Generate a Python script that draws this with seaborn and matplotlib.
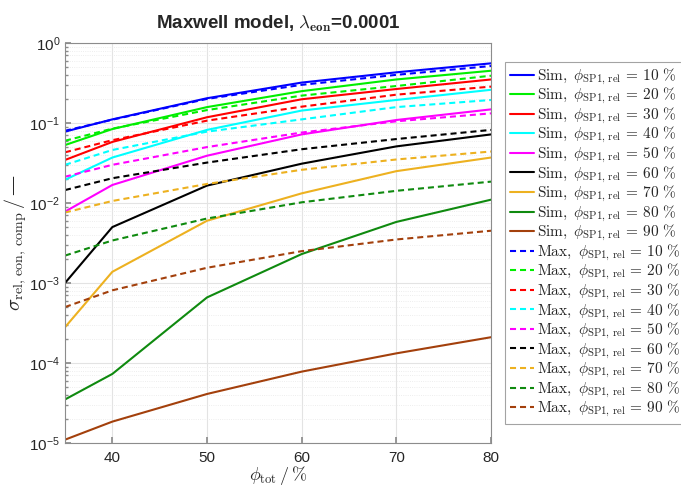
import numpy as np
import pandas as pd
import matplotlib
matplotlib.use("Agg")
import matplotlib.pyplot as plt
import seaborn as sns
from matplotlib.ticker import LogLocator, FixedLocator, LogFormatterMathtext, NullFormatter

# Total volume fraction (x) and relative SP1 fraction (series)
phi_tot = [35, 40, 50, 60, 70, 80]
phi_sp1 = [10, 20, 30, 40, 50, 60, 70, 80, 90]

# Simulated relative conductivity per SP1 fraction
sim_10 = [0.078, 0.111, 0.204, 0.32, 0.43, 0.557]
sim_20 = [0.053, 0.084, 0.158, 0.25, 0.35, 0.45]
sim_30 = [0.0345, 0.058, 0.118, 0.198, 0.266, 0.35]
sim_40 = [0.0195, 0.037, 0.082, 0.143, 0.194, 0.26]
sim_50 = [0.0078, 0.0168, 0.039, 0.072, 0.109, 0.148]
sim_60 = [0.001, 0.005, 0.0165, 0.031, 0.051, 0.072]
sim_70 = [0.00028, 0.00138, 0.006, 0.0132, 0.025, 0.037]
sim_80 = [3.5e-5, 7.3e-5, 6.6e-4, 0.0023, 0.0058, 0.011]
sim_90 = [1.1e-5, 1.85e-5, 4.1e-5, 7.8e-5, 1.32e-4, 2.1e-4]

# Maxwell model prediction per SP1 fraction
max_10 = [0.080, 0.110, 0.200, 0.300, 0.400, 0.516]
max_20 = [0.060, 0.085, 0.145, 0.220, 0.290, 0.390]
max_30 = [0.043, 0.061, 0.107, 0.160, 0.226, 0.285]
max_40 = [0.030, 0.046, 0.078, 0.111, 0.158, 0.194]
max_50 = [0.0213, 0.030, 0.050, 0.076, 0.105, 0.132]
max_60 = [0.0145, 0.0204, 0.032, 0.047, 0.063, 0.082]
max_70 = [0.0076, 0.0106, 0.0173, 0.026, 0.035, 0.044]
max_80 = [0.0022, 0.0034, 0.0064, 0.0102, 0.0142, 0.0185]
max_90 = [5.0e-4, 8.1e-4, 1.55e-3, 2.5e-3, 3.5e-3, 4.5e-3]

sim_series = [sim_10, sim_20, sim_30, sim_40, sim_50, sim_60, sim_70, sim_80, sim_90]
max_series = [max_10, max_20, max_30, max_40, max_50, max_60, max_70, max_80, max_90]

colors = ["#0000ff", "#00ee00", "#ff0000", "#00ffff", "#ff00ff",
          "#000000", "#edb120", "#0f8a0f", "#a3400c"]

rows = []
for kind, series in (("Sim", sim_series), ("Max", max_series)):
    for p, vals in zip(phi_sp1, series):
        for x, v in zip(phi_tot, vals):
            rows.append({"kind": kind, "phi_sp1": p, "phi_tot": x, "sigma": v})
df = pd.DataFrame(rows)

sns.set_theme(style="white")
plt.rcParams["font.family"] = ["Liberation Sans", "DejaVu Sans"]
plt.rcParams["mathtext.fontset"] = "cm"

fig = plt.figure(figsize=(6.81, 4.88), dpi=100)
ax = fig.add_axes([65 / 681, 45 / 488, 426 / 681, 400 / 488])

dash = (2.9, 1.9)
handles = []
labels = []
for kind in ("Sim", "Max"):
    for p, c in zip(phi_sp1, colors):
        sub = df[(df["kind"] == kind) & (df["phi_sp1"] == p)]
        n_before = len(ax.lines)
        sns.lineplot(data=sub, x="phi_tot", y="sigma", color=c, lw=1.5,
                     ax=ax, legend=False, estimator=None)
        line = ax.lines[n_before]
        if kind == "Max":
            line.set_linestyle((0, dash))
        handles.append(line)
        labels.append(r"$\mathrm{%s,}\ \phi_{\mathrm{SP1,\,rel}} \,=\, %d\,\,\%%$" % (kind, p))

ax.set_yscale("log")
ax.set_xlim(35, 80)
ax.set_ylim(1e-5, 1)
ax.xaxis.set_major_locator(FixedLocator([40, 50, 60, 70, 80]))
ax.yaxis.set_major_locator(LogLocator(base=10, numticks=10))
ax.yaxis.set_minor_locator(LogLocator(base=10, subs=np.arange(2, 10), numticks=20))
ax.yaxis.set_major_formatter(LogFormatterMathtext())
ax.yaxis.set_minor_formatter(NullFormatter())

ax.grid(True, which="major", color="#e3e3e3", lw=0.8, ls="-")
ax.grid(True, which="minor", axis="y", color="#e8e8e8", lw=0.6, ls=":")
ax.set_axisbelow(True)
for s in ax.spines.values():
    s.set_color("#8c8c8c")
    s.set_linewidth(0.8)
ax.tick_params(which="both", direction="in", colors="#8c8c8c", labelcolor="#262626",
               labelsize=11, left=True, bottom=True)
ax.tick_params(which="major", length=4)
ax.tick_params(which="minor", length=2)
ax.tick_params(axis="x", pad=6)

ax.set_xlabel(r"$\phi_{\mathrm{tot}}\,/\,\%$", fontsize=13, labelpad=-1)
ax.set_ylabel(r"$\sigma_{\mathrm{rel,\,eon,\,comp}}\,/\,$—", fontsize=14.5, labelpad=0,
              family=["DejaVu Serif"])
ax.set_title(r"Maxwell model, $\lambda_{\mathbf{eon}}$=0.0001", fontsize=13.5,
             fontweight="bold", pad=10)

leg = fig.legend(handles, labels, loc="upper left", bbox_to_anchor=(505 / 681, 426 / 488),
                 fontsize=11, frameon=True, fancybox=False, edgecolor="#8c8c8c",
                 handlelength=1.6, handletextpad=0.2, labelspacing=-0.04,
                 borderpad=0.3, borderaxespad=0)
leg.get_frame().set_linewidth(0.8)

fig.savefig("out.png", dpi=100)
